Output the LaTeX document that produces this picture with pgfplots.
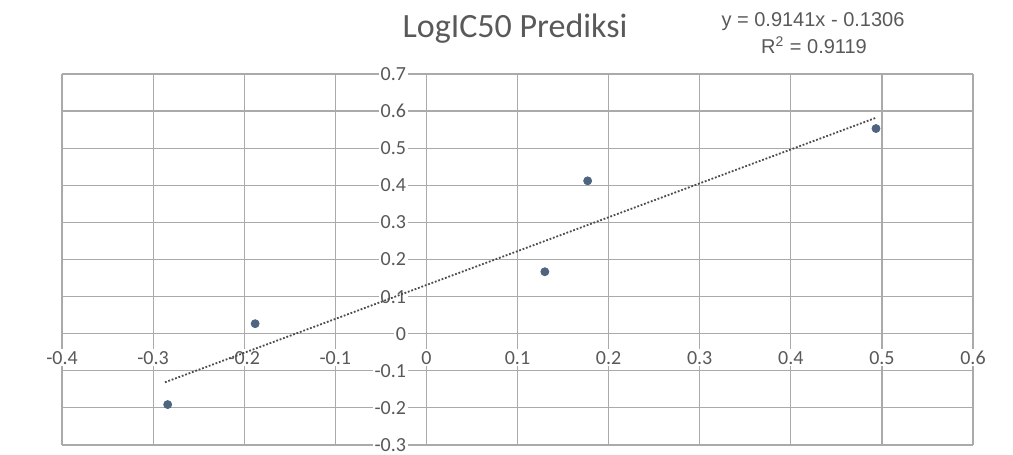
\documentclass[border=0pt]{standalone}
\usepackage{pgfplots}
\pgfplotsset{compat=1.18}
\usepackage{fontspec}
\setmainfont{Carlito}
\newfontfamily\eqfont{Liberation Sans}
\definecolor{txt}{RGB}{89,89,89}
\definecolor{grd}{RGB}{170,170,170}
\definecolor{mk}{RGB}{78,100,128}
\begin{document}
\begin{tikzpicture}[x=1pt,y=1pt]
\begin{axis}[
  set layers,
  at={(31pt,5pt)}, anchor=south west,
  scale only axis, width=455.5pt, height=185.5pt,
  xmin=-0.4, xmax=0.6, ymin=-0.3, ymax=0.7,
  axis lines=middle, axis line style={grd, -, line width=0.7pt},
  hide obscured x ticks=false, hide obscured y ticks=false,
  xtick={-0.4,-0.3,-0.2,-0.1,0,0.1,0.2,0.3,0.4,0.5,0.6},
  ytick={-0.3,-0.2,-0.1,0,0.1,0.2,0.3,0.4,0.5,0.6,0.7},
  grid=major, major grid style={grd, line width=0.6pt},
  major tick length=0pt,
  /pgf/number format/assume math mode=true,
  /pgf/number format/fixed, /pgf/number format/precision=1,
  every tick label/.append style={font=\fontsize{10}{11}\selectfont, text=txt, fill=white, inner sep=1pt},
  xticklabel style={anchor=base, yshift=-15.25pt},
  yticklabel style={anchor=east, xshift=-9pt},
  clip=false,
]
\addplot[only marks, mark=*, mark size=2pt, color=mk] coordinates {
  (-0.284,-0.191) (-0.188,0.027) (0.130,0.167) (0.177,0.412) (0.4935,0.553)};
\addplot[color=black!70, line width=0.9pt, dash pattern=on 0.9pt off 0.9pt] coordinates {
  (-0.287,-0.131) (0.4935,0.582)};
\end{axis}
\node[text=txt, font=\fontsize{17}{19}\selectfont, anchor=base] at (257.5,208.5) {LogIC50 Prediksi};
\node[text=txt, font=\eqfont\fontsize{10}{11}\selectfont] at (406.5,216.5) {y = 0.9141x - 0.1306};
\node[text=txt, font=\eqfont\fontsize{10}{11}\selectfont] at (407,205) {R\textsuperscript{2} = 0.9119};
\path (0,0) rectangle (506.5,227.5);
\end{tikzpicture}
\end{document}
